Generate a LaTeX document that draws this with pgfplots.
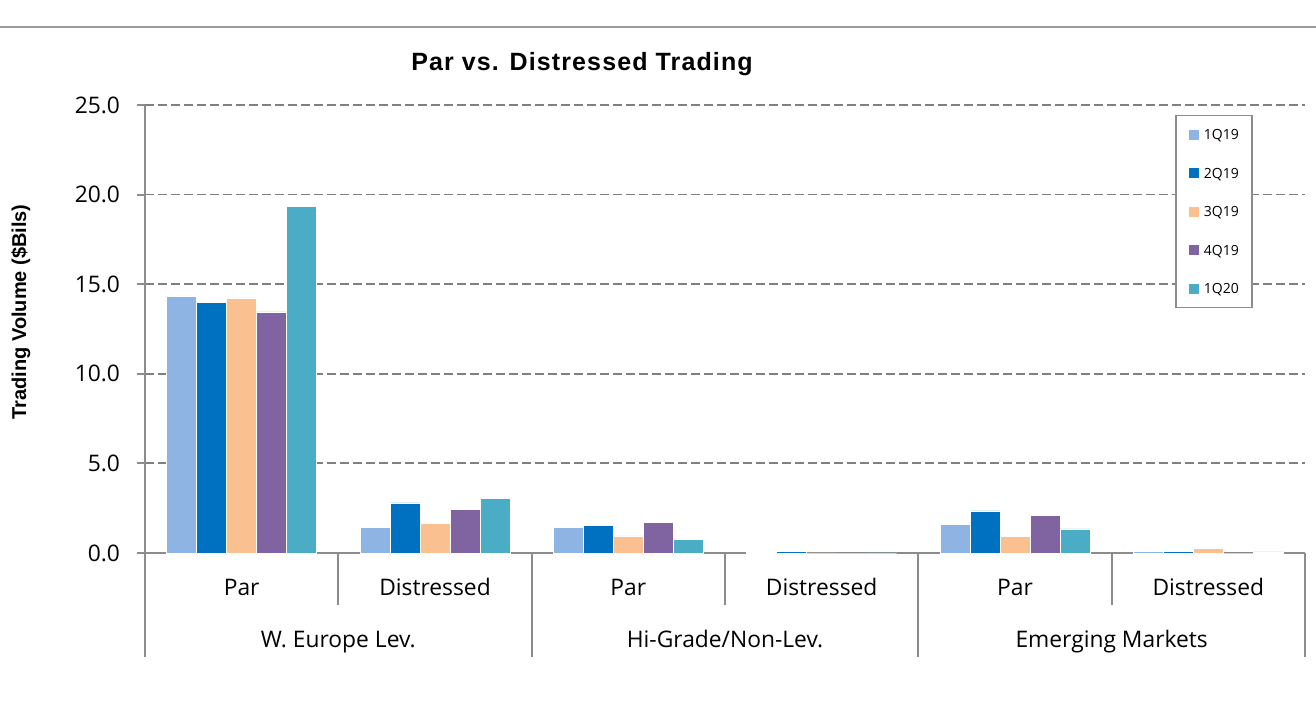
\documentclass[border=0pt]{standalone}
\usepackage{pgfplots}
\pgfplotsset{compat=1.18}
\usepackage{pgfplotstable}
\usepackage{fontspec}
\setmainfont{Open Sans}
\newfontfamily\arialfont{Liberation Sans}
\definecolor{c1}{HTML}{8EB4E3}
\definecolor{c2}{HTML}{0070C0}
\definecolor{c3}{HTML}{FAC090}
\definecolor{c4}{HTML}{8064A2}
\definecolor{c5}{HTML}{4BACC6}
\definecolor{axisgray}{HTML}{8C8C8C}
\definecolor{gridgray}{HTML}{808080}
\definecolor{topline}{HTML}{9C9C9C}
\pgfplotstableread{
x q1 q2 q3 q4 q5
0 14.33 14.00 14.23 13.45 19.36
1 1.45 2.80 1.64 2.44 3.05
2 1.45 1.56 0.95 1.69 0.74
3 0.05 0.08 0.00 0.00 0.00
4 1.60 2.35 0.93 2.12 1.34
5 0.10 0.10 0.28 0.00 0.06
}\data
\begin{document}
\begin{tikzpicture}
\path[use as bounding box] (0,0) rectangle (658pt,355pt);
\draw[color=topline, line width=1pt] (0,341.5pt) -- (658pt,341.5pt);
\node[anchor=base, font=\arialfont\bfseries\fontsize{12.5}{15}\selectfont] at (291pt,319.5pt) {\addfontfeatures{LetterSpace=4.5}Par vs. Distressed Trading};
\node[rotate=90, anchor=base, font=\arialfont\bfseries\fontsize{10}{12}\selectfont] at (13pt,199pt) {Trading Volume (\$Bils)};
\begin{axis}[
  at={(72.5pt,78.5pt)}, anchor=south west,
  scale only axis, width=580pt, height=224pt,
  xmin=-0.5, xmax=5.5, ymin=0, ymax=25,
  ytick={0,5,...,25},
  xtick={0,...,5},
  xticklabels={Par,Distressed,Par,Distressed,Par,Distressed},
  axis lines*=left,
  axis line style={color=axisgray, line width=1pt},
  ymajorgrids,
  y grid style={dash pattern=on 4.5pt off 2pt, color=gridgray, line width=0.9pt},
  ytick style={color=axisgray, line width=1pt},
  major tick length=4pt, tick align=outside,
  xtick style={draw=none},
  tick label style={font=\fontsize{11.4}{13}\selectfont},
  /pgf/number format/assume math mode=true,
  yticklabel style={xshift=-5pt, /pgf/number format/.cd, fixed, fixed zerofill, precision=1},
  xticklabel style={anchor=base, yshift=-17.5pt},
  ybar=0pt, bar width=15pt,
  clip=false,
  legend style={at={(axis description cs:0.888,0.978)}, anchor=north west,
    draw=axisgray, line width=0.8pt, fill=white,
    font=\fontsize{7}{8}\selectfont,
    inner xsep=6.5pt, inner ysep=7pt,
    row sep=14.25pt, column sep=2.5pt,
    nodes={inner sep=0pt, text height=5pt, text depth=0pt}},
  legend cell align=left,
  legend image code/.code={\fill[#1, draw=none] (0pt,-2.5pt) rectangle (5pt,2.5pt);},
]
\addplot[fill=c1, draw=white, line width=0.3pt] table[x=x, y=q1] {\data};
\addplot[fill=c2, draw=white, line width=0.3pt] table[x=x, y=q2] {\data};
\addplot[fill=c3, draw=white, line width=0.3pt] table[x=x, y=q3] {\data};
\addplot[fill=c4, draw=white, line width=0.3pt] table[x=x, y=q4] {\data};
\addplot[fill=c5, draw=white, line width=0.3pt] table[x=x, y=q5] {\data};
\legend{1Q19,2Q19,3Q19,4Q19,1Q20}
\draw[axisgray, line width=1pt] (axis cs:-0.5,0) -- ([yshift=-52pt]axis cs:-0.5,0);
\draw[axisgray, line width=1pt] (axis cs:1.5,0) -- ([yshift=-52pt]axis cs:1.5,0);
\draw[axisgray, line width=1pt] (axis cs:3.5,0) -- ([yshift=-52pt]axis cs:3.5,0);
\draw[axisgray, line width=1pt] (axis cs:5.5,0) -- ([yshift=-52pt]axis cs:5.5,0);
\draw[axisgray, line width=1pt] (axis cs:0.5,0) -- ([yshift=-26pt]axis cs:0.5,0);
\draw[axisgray, line width=1pt] (axis cs:2.5,0) -- ([yshift=-26pt]axis cs:2.5,0);
\draw[axisgray, line width=1pt] (axis cs:4.5,0) -- ([yshift=-26pt]axis cs:4.5,0);
\node[anchor=base, font=\fontsize{11.4}{13}\selectfont, yshift=-47.5pt] at (axis cs:0.5,0) {W. Europe Lev.};
\node[anchor=base, font=\fontsize{11.4}{13}\selectfont, yshift=-47.5pt] at (axis cs:2.5,0) {Hi-Grade/Non-Lev.};
\node[anchor=base, font=\fontsize{11.4}{13}\selectfont, yshift=-47.5pt] at (axis cs:4.5,0) {Emerging Markets};
\end{axis}
\end{tikzpicture}
\end{document}
